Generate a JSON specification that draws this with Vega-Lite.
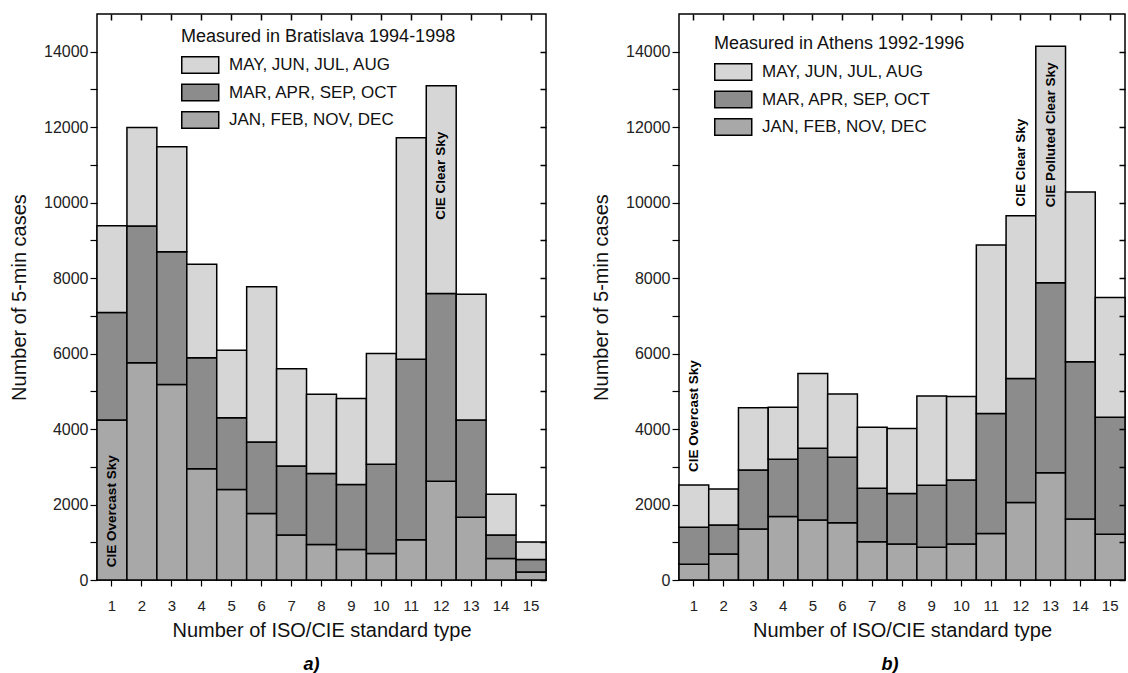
{
"$schema": "https://vega.github.io/schema/vega-lite/v6.json",
"padding": {"left": 8, "top": 12, "right": 0, "bottom": 0},
"spacing": 42,
"datasets": {
"brat": [
{"type":1,"season":"JAN, FEB, NOV, DEC","count":4240},{"type":1,"season":"MAR, APR, SEP, OCT","count":2850},{"type":1,"season":"MAY, JUN, JUL, AUG","count":2300},
{"type":2,"season":"JAN, FEB, NOV, DEC","count":5760},{"type":2,"season":"MAR, APR, SEP, OCT","count":3620},{"type":2,"season":"MAY, JUN, JUL, AUG","count":2610},
{"type":3,"season":"JAN, FEB, NOV, DEC","count":5180},{"type":3,"season":"MAR, APR, SEP, OCT","count":3520},{"type":3,"season":"MAY, JUN, JUL, AUG","count":2780},
{"type":4,"season":"JAN, FEB, NOV, DEC","count":2950},{"type":4,"season":"MAR, APR, SEP, OCT","count":2940},{"type":4,"season":"MAY, JUN, JUL, AUG","count":2480},
{"type":5,"season":"JAN, FEB, NOV, DEC","count":2400},{"type":5,"season":"MAR, APR, SEP, OCT","count":1900},{"type":5,"season":"MAY, JUN, JUL, AUG","count":1790},
{"type":6,"season":"JAN, FEB, NOV, DEC","count":1760},{"type":6,"season":"MAR, APR, SEP, OCT","count":1900},{"type":6,"season":"MAY, JUN, JUL, AUG","count":4110},
{"type":7,"season":"JAN, FEB, NOV, DEC","count":1190},{"type":7,"season":"MAR, APR, SEP, OCT","count":1830},{"type":7,"season":"MAY, JUN, JUL, AUG","count":2580},
{"type":8,"season":"JAN, FEB, NOV, DEC","count":940},{"type":8,"season":"MAR, APR, SEP, OCT","count":1880},{"type":8,"season":"MAY, JUN, JUL, AUG","count":2100},
{"type":9,"season":"JAN, FEB, NOV, DEC","count":810},{"type":9,"season":"MAR, APR, SEP, OCT","count":1720},{"type":9,"season":"MAY, JUN, JUL, AUG","count":2280},
{"type":10,"season":"JAN, FEB, NOV, DEC","count":700},{"type":10,"season":"MAR, APR, SEP, OCT","count":2370},{"type":10,"season":"MAY, JUN, JUL, AUG","count":2930},
{"type":11,"season":"JAN, FEB, NOV, DEC","count":1070},{"type":11,"season":"MAR, APR, SEP, OCT","count":4780},{"type":11,"season":"MAY, JUN, JUL, AUG","count":5870},
{"type":12,"season":"JAN, FEB, NOV, DEC","count":2620},{"type":12,"season":"MAR, APR, SEP, OCT","count":4970},{"type":12,"season":"MAY, JUN, JUL, AUG","count":5510},
{"type":13,"season":"JAN, FEB, NOV, DEC","count":1660},{"type":13,"season":"MAR, APR, SEP, OCT","count":2580},{"type":13,"season":"MAY, JUN, JUL, AUG","count":3330},
{"type":14,"season":"JAN, FEB, NOV, DEC","count":570},{"type":14,"season":"MAR, APR, SEP, OCT","count":620},{"type":14,"season":"MAY, JUN, JUL, AUG","count":1080},
{"type":15,"season":"JAN, FEB, NOV, DEC","count":210},{"type":15,"season":"MAR, APR, SEP, OCT","count":330},{"type":15,"season":"MAY, JUN, JUL, AUG","count":470}
],
"ath": [
{"type":1,"season":"JAN, FEB, NOV, DEC","count":415},{"type":1,"season":"MAR, APR, SEP, OCT","count":980},{"type":1,"season":"MAY, JUN, JUL, AUG","count":1120},
{"type":2,"season":"JAN, FEB, NOV, DEC","count":690},{"type":2,"season":"MAR, APR, SEP, OCT","count":770},{"type":2,"season":"MAY, JUN, JUL, AUG","count":950},
{"type":3,"season":"JAN, FEB, NOV, DEC","count":1350},{"type":3,"season":"MAR, APR, SEP, OCT","count":1565},{"type":3,"season":"MAY, JUN, JUL, AUG","count":1650},
{"type":4,"season":"JAN, FEB, NOV, DEC","count":1680},{"type":4,"season":"MAR, APR, SEP, OCT","count":1520},{"type":4,"season":"MAY, JUN, JUL, AUG","count":1375},
{"type":5,"season":"JAN, FEB, NOV, DEC","count":1590},{"type":5,"season":"MAR, APR, SEP, OCT","count":1900},{"type":5,"season":"MAY, JUN, JUL, AUG","count":1985},
{"type":6,"season":"JAN, FEB, NOV, DEC","count":1520},{"type":6,"season":"MAR, APR, SEP, OCT","count":1730},{"type":6,"season":"MAY, JUN, JUL, AUG","count":1680},
{"type":7,"season":"JAN, FEB, NOV, DEC","count":1015},{"type":7,"season":"MAR, APR, SEP, OCT","count":1415},{"type":7,"season":"MAY, JUN, JUL, AUG","count":1615},
{"type":8,"season":"JAN, FEB, NOV, DEC","count":955},{"type":8,"season":"MAR, APR, SEP, OCT","count":1340},{"type":8,"season":"MAY, JUN, JUL, AUG","count":1720},
{"type":9,"season":"JAN, FEB, NOV, DEC","count":865},{"type":9,"season":"MAR, APR, SEP, OCT","count":1645},{"type":9,"season":"MAY, JUN, JUL, AUG","count":2365},
{"type":10,"season":"JAN, FEB, NOV, DEC","count":955},{"type":10,"season":"MAR, APR, SEP, OCT","count":1695},{"type":10,"season":"MAY, JUN, JUL, AUG","count":2215},
{"type":11,"season":"JAN, FEB, NOV, DEC","count":1235},{"type":11,"season":"MAR, APR, SEP, OCT","count":3180},{"type":11,"season":"MAY, JUN, JUL, AUG","count":4460},
{"type":12,"season":"JAN, FEB, NOV, DEC","count":2055},{"type":12,"season":"MAR, APR, SEP, OCT","count":3285},{"type":12,"season":"MAY, JUN, JUL, AUG","count":4310},
{"type":13,"season":"JAN, FEB, NOV, DEC","count":2845},{"type":13,"season":"MAR, APR, SEP, OCT","count":5030},{"type":13,"season":"MAY, JUN, JUL, AUG","count":6270},
{"type":14,"season":"JAN, FEB, NOV, DEC","count":1615},{"type":14,"season":"MAR, APR, SEP, OCT","count":4170},{"type":14,"season":"MAY, JUN, JUL, AUG","count":4500},
{"type":15,"season":"JAN, FEB, NOV, DEC","count":1210},{"type":15,"season":"MAR, APR, SEP, OCT","count":3100},{"type":15,"season":"MAY, JUN, JUL, AUG","count":3180}
],
"bratNotes": [
{"type":1,"y":340,"label":"CIE Overcast Sky"},
{"type":12,"y":9550,"label":"CIE Clear Sky"}
],
"athNotes": [
{"type":1,"y":2860,"label":"CIE Overcast Sky"},
{"type":12,"y":9900,"label":"CIE Clear Sky"},
{"type":13,"y":9880,"label":"CIE Polluted Clear Sky"}
]
},
"hconcat": [
{
"width": 449, "height": 566,
"title": {"text": "a)", "orient": "bottom", "frame": "group", "dx": -10, "offset": 16, "fontSize": 18, "fontWeight": "bold", "fontStyle": "italic", "color": "#000"},
"resolve": {"axis": {"x": "independent", "y": "independent"}},
"layer": [
{
"data": {"name": "brat"},
"mark": {"type": "bar", "stroke": "#000", "strokeWidth": 1.5},
"encoding": {
"x": {"field": "type", "type": "ordinal", "scale": {"paddingInner": 0, "paddingOuter": 0}, "axis": {"orient": "bottom", "title": "Number of ISO/CIE standard type", "labelAngle": 0, "tickSize": 6, "labelPadding": 12, "titlePadding": 7, "labelDx": 3, "labelFontSize": 15, "domain": false}},
"y": {"field": "count", "type": "quantitative", "stack": "zero", "scale": {"domain": [0, 15000], "nice": false}, "axis": {"orient": "left", "title": "Number of 5-min cases", "values": [0,1000,2000,3000,4000,5000,6000,7000,8000,9000,10000,11000,12000,13000,14000], "labelExpr": "datum.value % 2000 == 0 ? datum.label : ''", "format": "d", "tickSize": 7, "labelPadding": 2, "titlePadding": 14, "labelFontSize": 16, "domain": false}},
"color": {"field": "season", "type": "nominal", "scale": {"domain": ["MAY, JUN, JUL, AUG", "MAR, APR, SEP, OCT", "JAN, FEB, NOV, DEC"], "range": ["#d6d6d6", "#8c8c8c", "#a8a8a8"]},
"legend": {"orient": "none", "legendX": 84, "legendY": 14, "title": "Measured in Bratislava 1994-1998", "titleFontSize": 18, "titleFontWeight": "normal", "titleColor": "#111", "titleLimit": 600, "labelLimit": 600, "labelFontSize": 17, "labelColor": "#111", "symbolType": "M-1,-0.9H3V0.9H-1Z", "symbolSize": 342, "symbolStrokeColor": "#000", "symbolStrokeWidth": 1.5, "rowPadding": 3.5, "labelOffset": 28, "titlePadding": 9}},
"order": {"field": "season", "sort": "ascending"}
}
},
{
"data": {"name": "bratNotes"},
"mark": {"type": "text", "angle": 270, "align": "left", "baseline": "middle", "fontWeight": "bold", "fontSize": 13.5, "color": "#000"},
"encoding": {
"x": {"field": "type", "type": "ordinal", "axis": null},
"y": {"field": "y", "type": "quantitative", "axis": null},
"text": {"field": "label"}
}
},
{
"data": {"name": "brat"},
"mark": {"type": "point", "opacity": 0},
"encoding": {
"x": {"field": "type", "type": "ordinal", "axis": {"orient": "top", "labelExpr": "''", "labelFontSize": 1, "labelPadding": 0, "tickSize": 6, "tickWidth": 1.5, "offset": -6, "zindex": 2, "domain": false, "title": null}},
"y": {"field": "count", "type": "quantitative", "axis": {"orient": "right", "labelExpr": "''", "labelFontSize": 1, "labelPadding": 0, "tickSize": 6, "tickWidth": 1.5, "offset": -6, "zindex": 2, "domain": false, "title": null, "values": [0,1000,2000,3000,4000,5000,6000,7000,8000,9000,10000,11000,12000,13000,14000]}}
}
}
]
},
{
"width": 446, "height": 566,
"title": {"text": "b)", "orient": "bottom", "frame": "group", "dx": -12, "offset": 16, "fontSize": 18, "fontWeight": "bold", "fontStyle": "italic", "color": "#000"},
"resolve": {"axis": {"x": "independent", "y": "independent"}},
"layer": [
{
"data": {"name": "ath"},
"mark": {"type": "bar", "stroke": "#000", "strokeWidth": 1.5},
"encoding": {
"x": {"field": "type", "type": "ordinal", "scale": {"paddingInner": 0, "paddingOuter": 0}, "axis": {"orient": "bottom", "title": "Number of ISO/CIE standard type", "labelAngle": 0, "tickSize": 6, "labelPadding": 12, "titlePadding": 7, "labelDx": 3, "labelFontSize": 15, "domain": false}},
"y": {"field": "count", "type": "quantitative", "stack": "zero", "scale": {"domain": [0, 15000], "nice": false}, "axis": {"orient": "left", "title": "Number of 5-min cases", "values": [0,1000,2000,3000,4000,5000,6000,7000,8000,9000,10000,11000,12000,13000,14000], "labelExpr": "datum.value % 2000 == 0 ? datum.label : ''", "format": "d", "tickSize": 7, "labelPadding": 2, "titlePadding": 14, "labelFontSize": 16, "domain": false}},
"color": {"field": "season", "type": "nominal", "scale": {"domain": ["MAY, JUN, JUL, AUG", "MAR, APR, SEP, OCT", "JAN, FEB, NOV, DEC"], "range": ["#d6d6d6", "#8c8c8c", "#a8a8a8"]},
"legend": {"orient": "none", "legendX": 35, "legendY": 21, "title": "Measured in Athens 1992-1996", "titleFontSize": 18, "titleFontWeight": "normal", "titleColor": "#111", "titleLimit": 600, "labelLimit": 600, "labelFontSize": 17, "labelColor": "#111", "symbolType": "M-1,-0.9H3V0.9H-1Z", "symbolSize": 342, "symbolStrokeColor": "#000", "symbolStrokeWidth": 1.5, "rowPadding": 3.5, "labelOffset": 28, "titlePadding": 9}},
"order": {"field": "season", "sort": "ascending"}
}
},
{
"data": {"name": "athNotes"},
"mark": {"type": "text", "angle": 270, "align": "left", "baseline": "middle", "fontWeight": "bold", "fontSize": 13.5, "color": "#000"},
"encoding": {
"x": {"field": "type", "type": "ordinal", "axis": null},
"y": {"field": "y", "type": "quantitative", "axis": null},
"text": {"field": "label"}
}
},
{
"data": {"name": "ath"},
"mark": {"type": "point", "opacity": 0},
"encoding": {
"x": {"field": "type", "type": "ordinal", "axis": {"orient": "top", "labelExpr": "''", "labelFontSize": 1, "labelPadding": 0, "tickSize": 6, "tickWidth": 1.5, "offset": -6, "zindex": 2, "domain": false, "title": null}},
"y": {"field": "count", "type": "quantitative", "axis": {"orient": "right", "labelExpr": "''", "labelFontSize": 1, "labelPadding": 0, "tickSize": 6, "tickWidth": 1.5, "offset": -6, "zindex": 2, "domain": false, "title": null, "values": [0,1000,2000,3000,4000,5000,6000,7000,8000,9000,10000,11000,12000,13000,14000]}}
}
}
]
}
],
"resolve": {"legend": {"color": "independent"}},
"config": {
"font": "Liberation Sans",
"view": {"stroke": "#000", "strokeWidth": 1.5},
"axis": {"grid": false, "labelColor": "#222", "titleColor": "#111", "titleFontSize": 20, "titleFontWeight": "normal", "tickColor": "#000", "tickWidth": 1.2, "labelFont": "Liberation Sans", "titleFont": "Liberation Sans"},
"legend": {"labelFont": "Liberation Sans", "titleFont": "Liberation Sans"}
}
}
